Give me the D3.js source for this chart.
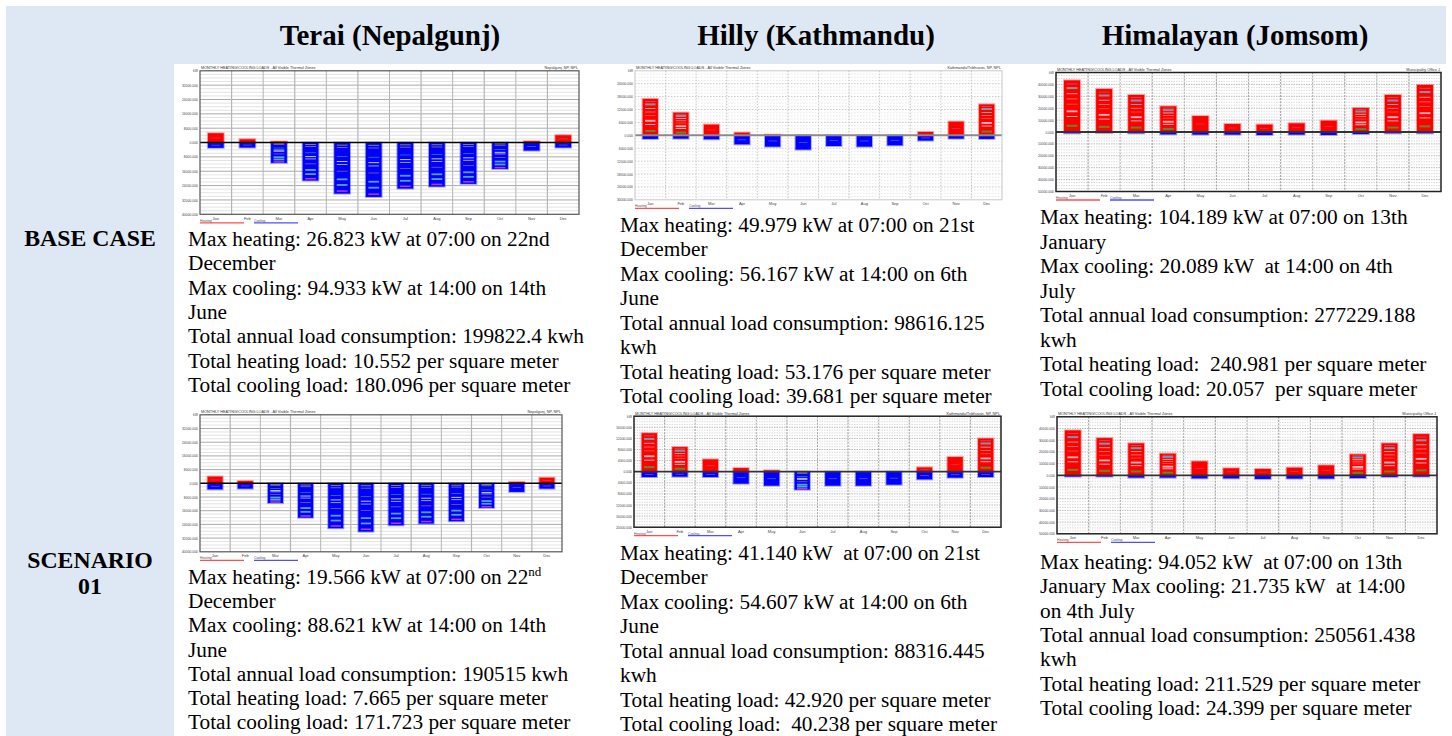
<!DOCTYPE html>
<html><head><meta charset="utf-8">
<script src="https://cdn.jsdelivr.net/npm/d3@7"></script>
<style>
html,body{margin:0;padding:0;background:#fff;}
svg{display:block;}
text{white-space:pre;}
</style></head><body>
<svg id="page" width="1452" height="736"></svg>
<script>
const months = ["Jan","Feb","Mar","Apr","May","Jun","Jul","Aug","Sep","Oct","Nov","Dec"];

// Monthly heating (above zero) and cooling (below zero) loads
const teraiBaseHeating = [5200,1840,560,0,0,0,0,0,0,0,720,4080];
const teraiBaseCooling = [2960,2800,11360,21200,28480,30320,25680,24560,23040,14720,4480,2800];
const hillyBaseHeating = [16920,10560,4980,1260,300,0,0,0,0,1560,6360,14400];
const hillyBaseCooling = [1680,1560,1860,4200,5280,6660,4980,5280,4680,2460,1560,1680];
const himalBaseHeating = [43400,36100,31100,21600,13400,6700,6200,7300,9500,20200,31100,39500];
const himalBaseCooling = [1100,800,1100,2000,2200,2200,2500,2200,2500,1700,1100,1100];
const teraiSc1Heating = [3920,1360,0,0,0,0,0,0,0,0,800,3280];
const teraiSc1Cooling = [3520,3120,11520,20080,26240,28240,24560,23520,22160,14400,5040,3120];
const hillySc1Heating = [13880,8880,4440,1320,480,0,0,0,0,1560,5280,11960];
const hillySc1Cooling = [1920,1800,1920,4320,5040,6480,5040,5040,4680,2760,2160,1920];
const himalSc1Heating = [38400,31800,27300,18500,11900,6000,5400,6500,8500,17900,27300,35200];
const himalSc1Cooling = [1100,1100,2000,2000,2600,2600,3100,2800,2800,2300,1400,1100];

// Axis step of each chart (five steps either side of zero)
const teraiBaseStep = 8000, hillyBaseStep = 6000, himalBaseStep = 10000;
const teraiSc1Step = 8000, hillySc1Step = 4000, himalSc1Step = 10000;

const columnTitles = ["Terai (Nepalgunj)", "Hilly (Kathmandu)", "Himalayan (Jomsom)"];
const rowTitles = [["BASE CASE"], ["SCENARIO", "01"]];

const teraiBaseNotes = ["Max heating: 26.823 kW at 07:00 on 22nd","December","Max cooling: 94.933 kW at 14:00 on 14th","June","Total annual load consumption: 199822.4 kwh","Total heating load: 10.552 per square meter","Total cooling load: 180.096 per square meter"];
const hillyBaseNotes = ["Max heating: 49.979 kW at 07:00 on 21st","December","Max cooling: 56.167 kW at 14:00 on 6th","June","Total annual load consumption: 98616.125","kwh","Total heating load: 53.176 per square meter","Total cooling load: 39.681 per square meter"];
const himalBaseNotes = ["Max heating: 104.189 kW at 07:00 on 13th","January","Max cooling: 20.089 kW  at 14:00 on 4th","July","Total annual load consumption: 277229.188","kwh","Total heating load:  240.981 per square meter","Total cooling load: 20.057  per square meter"];
const teraiSc1Notes = ["Max heating: 19.566 kW at 07:00 on 22^nd","December","Max cooling: 88.621 kW at 14:00 on 14th","June","Total annual load consumption: 190515 kwh","Total heating load: 7.665 per square meter","Total cooling load: 171.723 per square meter"];
const hillySc1Notes = ["Max heating: 41.140 kW  at 07:00 on 21st","December","Max cooling: 54.607 kW at 14:00 on 6th","June","Total annual load consumption: 88316.445","kwh","Total heating load: 42.920 per square meter","Total cooling load:  40.238 per square meter"];
const himalSc1Notes = ["Max heating: 94.052 kW  at 07:00 on 13th","January Max cooling: 21.735 kW  at 14:00","on 4th July","Total annual load consumption: 250561.438","kwh","Total heating load: 211.529 per square meter","Total cooling load: 24.399 per square meter"];

// Per-zone contribution streaks inside each bar: [fraction of bar, colour, thickness]
const heatZoneBands = [[0.12,'#44a030',2],[0.30,'#ffffff',0.8],[0.40,'#ffd6e6',1.8],[0.54,'#c08a48',0.7],[0.64,'#ff95a8',0.8],[0.74,'#ffffff',0.7],[0.85,'#62b2c4',2],[0.93,'#e06080',0.7]];
const coolZoneBands = [[0.05,'#a8c840',0.8],[0.10,'#c8a848',0.7],[0.27,'#44a868',0.7],[0.37,'#ffffff',0.9],[0.43,'#c8c8ff',0.9],[0.56,'#b08848',0.7],[0.72,'#66bcc8',1.8],[0.83,'#66bcc8',1.8],[0.95,'#d848b8',1.5]];

const svg = d3.select("#page");
const serif = "'Liberation Serif','Times New Roman',serif";

// table background
svg.append("rect").attr("x",6).attr("y",6).attr("width",1440).attr("height",58).attr("fill","#dde8f4");
svg.append("rect").attr("x",6).attr("y",64).attr("width",168).attr("height",672).attr("fill","#dde8f4");

const colCenters = [390, 816, 1235];
columnTitles.forEach((t,i)=>{
  svg.append("text").attr("x",colCenters[i]).attr("y",45).attr("text-anchor","middle")
    .attr("font-family",serif).attr("font-weight","bold").attr("font-size",29).attr("fill","#000").text(t);
});
const rowBase = [[246],[568,594]];
rowTitles.forEach((lines,r)=>{
  lines.forEach((t,j)=>{
    svg.append("text").attr("x",90).attr("y",rowBase[r][j]).attr("text-anchor","middle")
      .attr("font-family",serif).attr("font-weight","bold").attr("font-size",23.8).attr("fill","#000").text(t);
  });
});

function drawNotes(lines, x, y0, dy){
  lines.forEach((line,i)=>{
    const t = svg.append("text").attr("x",x).attr("y",y0+i*dy)
      .attr("font-family",serif).attr("font-size",21.3).attr("fill","#000");
    const parts = line.split("^");
    t.append("tspan").text(parts[0]);
    if(parts.length>1){
      t.append("tspan").attr("font-size",13).attr("dy",-8).text(parts[1]);
    }
  });
}
drawNotes(teraiBaseNotes, 188, 246, 24.35);
drawNotes(hillyBaseNotes, 620, 232, 24.45);
drawNotes(himalBaseNotes, 1040, 224, 24.5);
drawNotes(teraiSc1Notes, 188, 584, 24.2);
drawNotes(hillySc1Notes, 620, 560, 24.45);
drawNotes(himalSc1Notes, 1040, 569, 24.3);

const styles = {
  solid: {frame:"#555", fw:1.2, v:"#b5b5b5", vDash:null, hMajor:"#aaa", hMinor:"#dcdcdc", hDash:null, zero:"#000", zw:1.6},
  faint: {frame:"#c8c8c8", fw:1, v:"#c8c8c8", vDash:"1.5,1.5", hMajor:"#c8c8c8", hMinor:"#e2e2e2", hDash:"1.5,1.5", zero:"#8a8a8a", zw:2},
  dark:  {frame:"#222", fw:1.5, v:"#a8a8a8", vDash:"2,1.2", hMajor:"#b8b8b8", hMinor:"#d4d4d4", hDash:"1.5,1", zero:"#333", zw:1.8}
};

const charts = [
  {heat:teraiBaseHeating, cool:teraiBaseCooling, step:teraiBaseStep, site:"Nepalgunj, NP, NPL", x0:200, x1:579, y0:70.8, y1:214.3, style:"solid"},
  {heat:hillyBaseHeating, cool:hillyBaseCooling, step:hillyBaseStep, site:"Kathmandu/Tribhuvan, NP, NPL", x0:635, x1:1002, y0:70.8, y1:199.8, style:"faint"},
  {heat:himalBaseHeating, cool:himalBaseCooling, step:himalBaseStep, site:"Municipality Office J", x0:1056, x1:1441, y0:72.5, y1:191.5, style:"dark"},
  {heat:teraiSc1Heating, cool:teraiSc1Cooling, step:teraiSc1Step, site:"Nepalgunj, NP, NPL", x0:200, x1:562, y0:414.8, y1:551.8, style:"solid"},
  {heat:hillySc1Heating, cool:hillySc1Cooling, step:hillySc1Step, site:"Kathmandu/Tribhuvan, NP, NPL", x0:634, x1:1001, y0:416.2, y1:527.2, style:"dark"},
  {heat:himalSc1Heating, cool:himalSc1Cooling, step:himalSc1Step, site:"Municipality Office J", x0:1057, x1:1437, y0:416.8, y1:533.8, style:"dark"}
];

function drawChart(c){
  const st = styles[c.style];
  const g = svg.append("g");
  const x = d3.scaleBand().domain(months).range([c.x0,c.x1]).paddingInner(0.5).paddingOuter(0.25);
  const y = d3.scaleLinear().domain([-5*c.step, 5*c.step]).range([c.y1, c.y0]);
  const slot = (c.x1-c.x0)/12;

  g.append("rect").attr("x",c.x0).attr("y",c.y0).attr("width",c.x1-c.x0).attr("height",c.y1-c.y0).attr("fill","#fff");

  // horizontal grid: quarter steps faint, full steps stronger
  d3.range(-20,21).forEach(k=>{
    const v = k*c.step/4;
    if(k===0 || Math.abs(k)===20) return;
    g.append("line").attr("x1",c.x0).attr("x2",c.x1).attr("y1",y(v)).attr("y2",y(v))
      .attr("stroke", k%4===0 ? st.hMajor : st.hMinor).attr("stroke-width", k%4===0 ? 1 : 0.8)
      .attr("stroke-dasharray", st.hDash);
  });
  // month separators
  d3.range(1,12).forEach(i=>{
    g.append("line").attr("x1",c.x0+i*slot).attr("x2",c.x0+i*slot).attr("y1",c.y0).attr("y2",c.y1)
      .attr("stroke",st.v).attr("stroke-width", i%2 ? 1.2 : 1).attr("stroke-dasharray", st.vDash);
  });

  const bw = x.bandwidth();
  const bars = (vals, sign, color, bands) => {
    vals.forEach((v,i)=>{
      if(v<=0) return;
      const top = sign>0 ? y(v) : y(0);
      const bot = sign>0 ? y(0) : y(-v);
      const h = bot-top;
      g.append("rect").attr("x",x(months[i])).attr("y",top).attr("width",bw).attr("height",h)
        .attr("fill",color).attr("stroke",color).attr("stroke-opacity",0.35).attr("stroke-width",2);
      if(h>=16){
        bands.forEach(([f,col,t])=>{
          const yy = sign>0 ? bot - f*h : top + f*h;
          g.append("rect").attr("x",x(months[i])+bw*0.16).attr("y",yy-t/2).attr("width",bw*0.68).attr("height",t)
            .attr("fill",col).attr("opacity",0.85);
        });
      } else if(h>=4){
        const yy = sign>0 ? bot - h*0.5 : top + h*0.5;
        g.append("rect").attr("x",x(months[i])+bw*0.22).attr("y",yy-0.4).attr("width",bw*0.56).attr("height",0.8)
          .attr("fill", sign>0 ? "#c04858" : "#6a6ad0").attr("opacity",0.8);
      }
    });
  };
  bars(c.cool, -1, "#0000ff", coolZoneBands);
  bars(c.heat, 1, "#ff0000", heatZoneBands);

  // zero line and frame
  g.append("line").attr("x1",c.x0).attr("x2",c.x1).attr("y1",y(0)).attr("y2",y(0))
    .attr("stroke",st.zero).attr("stroke-width",st.zw);
  g.append("rect").attr("x",c.x0).attr("y",c.y0).attr("width",c.x1-c.x0).attr("height",c.y1-c.y0)
    .attr("fill","none").attr("stroke",st.frame).attr("stroke-width",st.fw);

  // axes
  const fmt = d3.format(".3f");
  const yAxis = d3.axisLeft(y).tickValues(d3.range(-5,6).map(k=>k*c.step)).tickSize(0).tickPadding(2)
    .tickFormat(v => v===5*c.step ? "kW" : fmt(Math.abs(v)));
  const ya = g.append("g").attr("transform",`translate(${c.x0},0)`).call(yAxis);
  ya.select(".domain").remove();
  ya.selectAll("text").attr("font-size",3.4).attr("font-family","Arial, sans-serif").attr("fill","#444");

  const xAxis = d3.axisBottom(x).tickSize(0).tickPadding(2.5);
  const xa = g.append("g").attr("transform",`translate(0,${c.y1})`).call(xAxis);
  xa.select(".domain").remove();
  xa.selectAll("text").attr("font-size",4).attr("font-family","Arial, sans-serif").attr("fill","#444");

  // chart heading
  g.append("text").attr("x",c.x0+1).attr("y",c.y0-1.5).attr("font-size",3.8).attr("font-family","Arial, sans-serif")
    .attr("fill","#333").text("MONTHLY HEATING/COOLING LOADS - All Visible Thermal Zones");
  g.append("text").attr("x",c.x1-1).attr("y",c.y0-1.5).attr("text-anchor","end").attr("font-size",3.8)
    .attr("font-family","Arial, sans-serif").attr("fill","#333").text(c.site);

  // legend
  const ly = c.y1 + 8.5;
  [["Heating","#ff3030",0],["Cooling","#3030ff",54]].forEach(([lab,col,off])=>{
    g.append("line").attr("x1",c.x0+off).attr("x2",c.x0+off+44).attr("y1",ly).attr("y2",ly)
      .attr("stroke",col).attr("stroke-width",1.3).attr("opacity",0.85);
    g.append("text").attr("x",c.x0+off).attr("y",ly-1.2).attr("font-size",3.4).attr("font-family","Arial, sans-serif")
      .attr("fill","#555").text(lab);
  });
}
charts.forEach(drawChart);
</script>
</body></html>
